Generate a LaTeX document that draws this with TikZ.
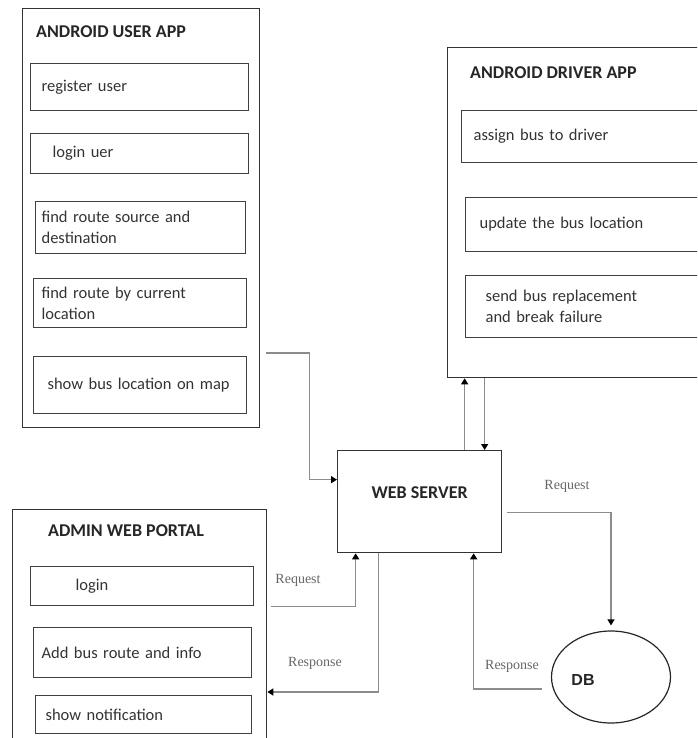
\documentclass[tikz,border=0pt]{standalone}
\usepackage{fontspec}
\setmainfont{Carlito}
\newfontfamily\msgfont{Liberation Serif}
\newfontfamily\dbfont{Liberation Sans}
\usetikzlibrary{arrows.meta,shapes.geometric}

\tikzset{
  panel/.style={draw=black!80, line width=1.3pt, anchor=north west, inner sep=0pt},
  item/.style={draw=black!75, line width=1.2pt, anchor=north west, inner ysep=0pt, align=left,
    font=\fontsize{16.5}{21}\selectfont, text=black!80},
  heading/.style={anchor=west, inner sep=0pt, font=\fontsize{18}{20}\selectfont\bfseries, text=black!85},
  flow/.style={draw=black!45, line width=1.3pt, -{Triangle[width=7pt,length=6pt,color=black]}},
  msg/.style={inner sep=0pt, font=\msgfont\fontsize{14}{16}\selectfont, text=black!60},
}

\begin{document}
\begin{tikzpicture}[x=1pt,y=1pt,yscale=-1]
\clip (0,0) rectangle (697,738);

% Android user app
\node[panel, minimum width=237pt, minimum height=419pt] (userapp) at (22,8) {};
\node[heading] (usertitle) at (36,32) {ANDROID USER APP};
\node[item, minimum width=218pt, minimum height=47pt, inner xsep=11pt, text width=196pt] (reg) at (30,63) {register user};
\node[item, minimum width=218pt, minimum height=40pt, inner xsep=22pt, text width=174pt] (ulogin) at (30,133) {login uer};
\node[item, minimum width=210pt, minimum height=52pt, inner xsep=6pt, text width=198pt] (src) at (35,201) {find route source and\\destination};
\node[item, minimum width=213pt, minimum height=49pt, inner xsep=8pt, text width=197pt] (cur) at (33,278) {find route by current\\location};
\node[item, minimum width=213pt, minimum height=57pt, inner xsep=14pt, text width=185pt] (map) at (33,356) {show bus location on map};

% Android driver app
\node[panel, minimum width=260pt, minimum height=330pt] (driverapp) at (447,47) {};
\node[heading] (drivertitle) at (470,73) {ANDROID DRIVER APP};
\node[item, minimum width=244pt, minimum height=52pt, inner xsep=12pt, text width=220pt] (assign) at (461,110) {assign bus to driver};
\node[item, minimum width=240pt, minimum height=54pt, inner xsep=14pt, text width=212pt] (update) at (465,197) {update the bus location};
\node[item, minimum width=240pt, minimum height=62pt, inner xsep=20pt, text width=200pt] (send) at (465,275) {send bus replacement\\and break failure};

% Web server
\node[panel, minimum width=164pt, minimum height=102pt] (server) at (337,450) {};
\node[heading, anchor=center] (servertitle) at ([yshift=-9pt]server.center) {WEB SERVER};

% Database
\node[draw=black!85, line width=1.2pt, ellipse, minimum width=119pt, minimum height=92pt, inner sep=0pt] (db) at (611,677) {};
\node[inner sep=0pt, font=\dbfont\bfseries\fontsize{16}{18}\selectfont, text=black!85] (dbtitle) at ([xshift=-28pt,yshift=3pt]db.center) {DB};

% Admin web portal
\node[panel, minimum width=254pt, minimum height=240pt] (admin) at (12,509) {};
\node[heading] (admintitle) at (48,531) {ADMIN WEB PORTAL};
\node[item, minimum width=223pt, minimum height=39pt, inner xsep=45pt, text width=133pt] (alogin) at (30,566) {login};
\node[item, minimum width=218pt, minimum height=50pt, inner xsep=8pt, text width=202pt] (addroute) at (33,627) {Add bus route and info};
\node[item, minimum width=216pt, minimum height=38pt, inner xsep=10pt, text width=196pt] (notif) at (35,695) {show notification};

% Connectors
\draw[flow] ([xshift=6pt,yshift=-3pt]userapp.east |- map.north) -- ++(43,0) |- ([yshift=-22pt]server.west);
\draw[flow] ([xshift=45pt]server.north) -- ([xshift=45pt]server.north |- driverapp.south);
\draw[flow] ([xshift=65pt]server.north |- driverapp.south) -- ([xshift=65pt]server.north);
\draw[flow, shorten >=5pt] ([xshift=5pt,yshift=11pt]server.east) -| (db.north);
\draw[flow] ([xshift=-9pt,yshift=12pt]db.west) -| ([xshift=54pt]server.south);
\draw[flow] ([xshift=4pt]admin.east |- alogin.south) -| ([xshift=-64pt]server.south);
\draw[flow] ([xshift=-41pt]server.south) |- ([yshift=-3pt]admin.east |- notif.north);

% Text Node
\node[msg] (req1) at (567,486) {Request};
\node[msg] (res1) at (512,666) {Response};
\node[msg] (req2) at (298,580) {Request};
\node[msg] (res2) at (315,663) {Response};

\end{tikzpicture}
\end{document}
